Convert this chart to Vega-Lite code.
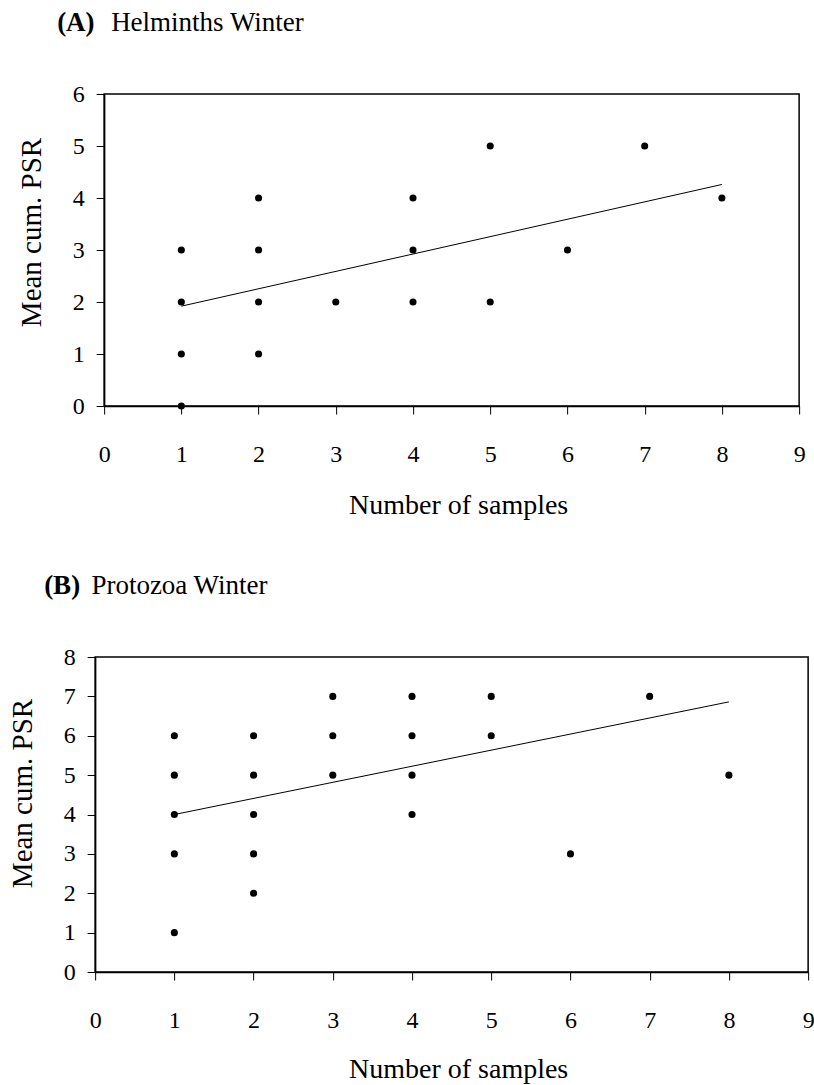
{
  "$schema": "https://vega.github.io/schema/vega-lite/v6.json",
  "padding": {"left": 7, "top": 8, "right": 5, "bottom": 0},
  "background": "white",
  "datasets": {
    "helminthsPoints": [
      {"samples": 1, "psr": 0}, {"samples": 1, "psr": 1}, {"samples": 1, "psr": 2}, {"samples": 1, "psr": 3},
      {"samples": 2, "psr": 1}, {"samples": 2, "psr": 2}, {"samples": 2, "psr": 3}, {"samples": 2, "psr": 4},
      {"samples": 3, "psr": 2},
      {"samples": 4, "psr": 2}, {"samples": 4, "psr": 3}, {"samples": 4, "psr": 4},
      {"samples": 5, "psr": 2}, {"samples": 5, "psr": 5},
      {"samples": 6, "psr": 3},
      {"samples": 7, "psr": 5},
      {"samples": 8, "psr": 4}
    ],
    "helminthsTrend": [
      {"samples": 1, "psr": 1.92}, {"samples": 8, "psr": 4.26}
    ],
    "protozoaPoints": [
      {"samples": 1, "psr": 1}, {"samples": 1, "psr": 3}, {"samples": 1, "psr": 4}, {"samples": 1, "psr": 5}, {"samples": 1, "psr": 6},
      {"samples": 2, "psr": 2}, {"samples": 2, "psr": 3}, {"samples": 2, "psr": 4}, {"samples": 2, "psr": 5}, {"samples": 2, "psr": 6},
      {"samples": 3, "psr": 5}, {"samples": 3, "psr": 6}, {"samples": 3, "psr": 7},
      {"samples": 4, "psr": 4}, {"samples": 4, "psr": 5}, {"samples": 4, "psr": 6}, {"samples": 4, "psr": 7},
      {"samples": 5, "psr": 6}, {"samples": 5, "psr": 7},
      {"samples": 6, "psr": 3},
      {"samples": 7, "psr": 7},
      {"samples": 8, "psr": 5}
    ],
    "protozoaTrend": [
      {"samples": 1, "psr": 4.0}, {"samples": 8, "psr": 6.86}
    ]
  },
  "config": {
    "font": "Liberation Serif",
    "view": {"stroke": "black", "strokeWidth": 1.5},
    "axis": {
      "grid": false,
      "domainColor": "black",
      "domainWidth": 1.5,
      "tickColor": "black",
      "tickWidth": 1,
      "tickSize": 8,
      "labelColor": "black",
      "titleColor": "black",
      "labelFont": "Liberation Serif",
      "titleFont": "Liberation Serif",
      "labelFontSize": 24,
      "titleFontSize": 28,
      "titleFontWeight": "normal",
      "labelFlush": false,
      "labelOverlap": false
    },
    "title": {
      "font": "Liberation Serif",
      "fontSize": 27,
      "fontWeight": "bold",
      "color": "black",
      "anchor": "start",
      "frame": "group",
      "subtitleFont": "Liberation Serif",
      "subtitleFontSize": 27,
      "subtitleFontWeight": "normal",
      "subtitleColor": "black",
      "subtitlePadding": -27
    }
  },
  "center": true,
  "spacing": 51,
  "vconcat": [
    {
      "width": 695,
      "height": 312,
      "title": {
        "text": "(A)",
        "subtitle": "\u200b\u00a0\u00a0\u00a0\u00a0\u00a0\u00a0\u00a0\u00a0Helminths Winter",
        "dx": -47,
        "offset": 45
      },
      "encoding": {
        "x": {
          "field": "samples", "type": "quantitative",
          "scale": {"domain": [0, 9], "nice": false, "zero": false},
          "axis": {"values": [0, 1, 2, 3, 4, 5, 6, 7, 8, 9], "title": "Number of samples", "labelFont": "Liberation Serif", "titleFont": "Liberation Serif", "labelFontSize": 24, "titleFontSize": 28, "labelPadding": 28, "titlePadding": 25, "titleX": 354}
        },
        "y": {
          "field": "psr", "type": "quantitative",
          "scale": {"domain": [0, 6], "nice": false},
          "axis": {"values": [0, 1, 2, 3, 4, 5, 6], "title": "Mean cum. PSR", "labelFont": "Liberation Serif", "titleFont": "Liberation Serif", "labelFontSize": 24, "titleFontSize": 29, "labelPadding": 12, "titlePadding": 26, "titleY": 138}
        }
      },
      "layer": [
        {"data": {"name": "helminthsPoints"}, "mark": {"type": "circle", "size": 50, "color": "black", "opacity": 1}},
        {"data": {"name": "helminthsTrend"}, "mark": {"type": "line", "color": "black", "strokeWidth": 1}, "encoding": {}}
      ]
    },
    {
      "width": 713,
      "height": 315,
      "title": {
        "text": "(B)",
        "subtitle": "\u200b\u00a0\u00a0\u00a0\u00a0\u00a0\u00a0\u00a0Protozoa Winter",
        "dx": -51,
        "offset": 45
      },
      "encoding": {
        "x": {
          "field": "samples", "type": "quantitative",
          "scale": {"domain": [0, 9], "nice": false, "zero": false},
          "axis": {"values": [0, 1, 2, 3, 4, 5, 6, 7, 8, 9], "title": "Number of samples", "labelFont": "Liberation Serif", "titleFont": "Liberation Serif", "labelFontSize": 24, "titleFontSize": 28, "labelPadding": 28, "titlePadding": 23, "titleX": 363}
        },
        "y": {
          "field": "psr", "type": "quantitative",
          "scale": {"domain": [0, 8], "nice": false},
          "axis": {"values": [0, 1, 2, 3, 4, 5, 6, 7, 8], "title": "Mean cum. PSR", "labelFont": "Liberation Serif", "titleFont": "Liberation Serif", "labelFontSize": 24, "titleFontSize": 29, "labelPadding": 12, "titlePadding": 26, "titleY": 136}
        }
      },
      "layer": [
        {"data": {"name": "protozoaPoints"}, "mark": {"type": "circle", "size": 50, "color": "black", "opacity": 1}},
        {"data": {"name": "protozoaTrend"}, "mark": {"type": "line", "color": "black", "strokeWidth": 1}, "encoding": {}}
      ]
    }
  ]
}
